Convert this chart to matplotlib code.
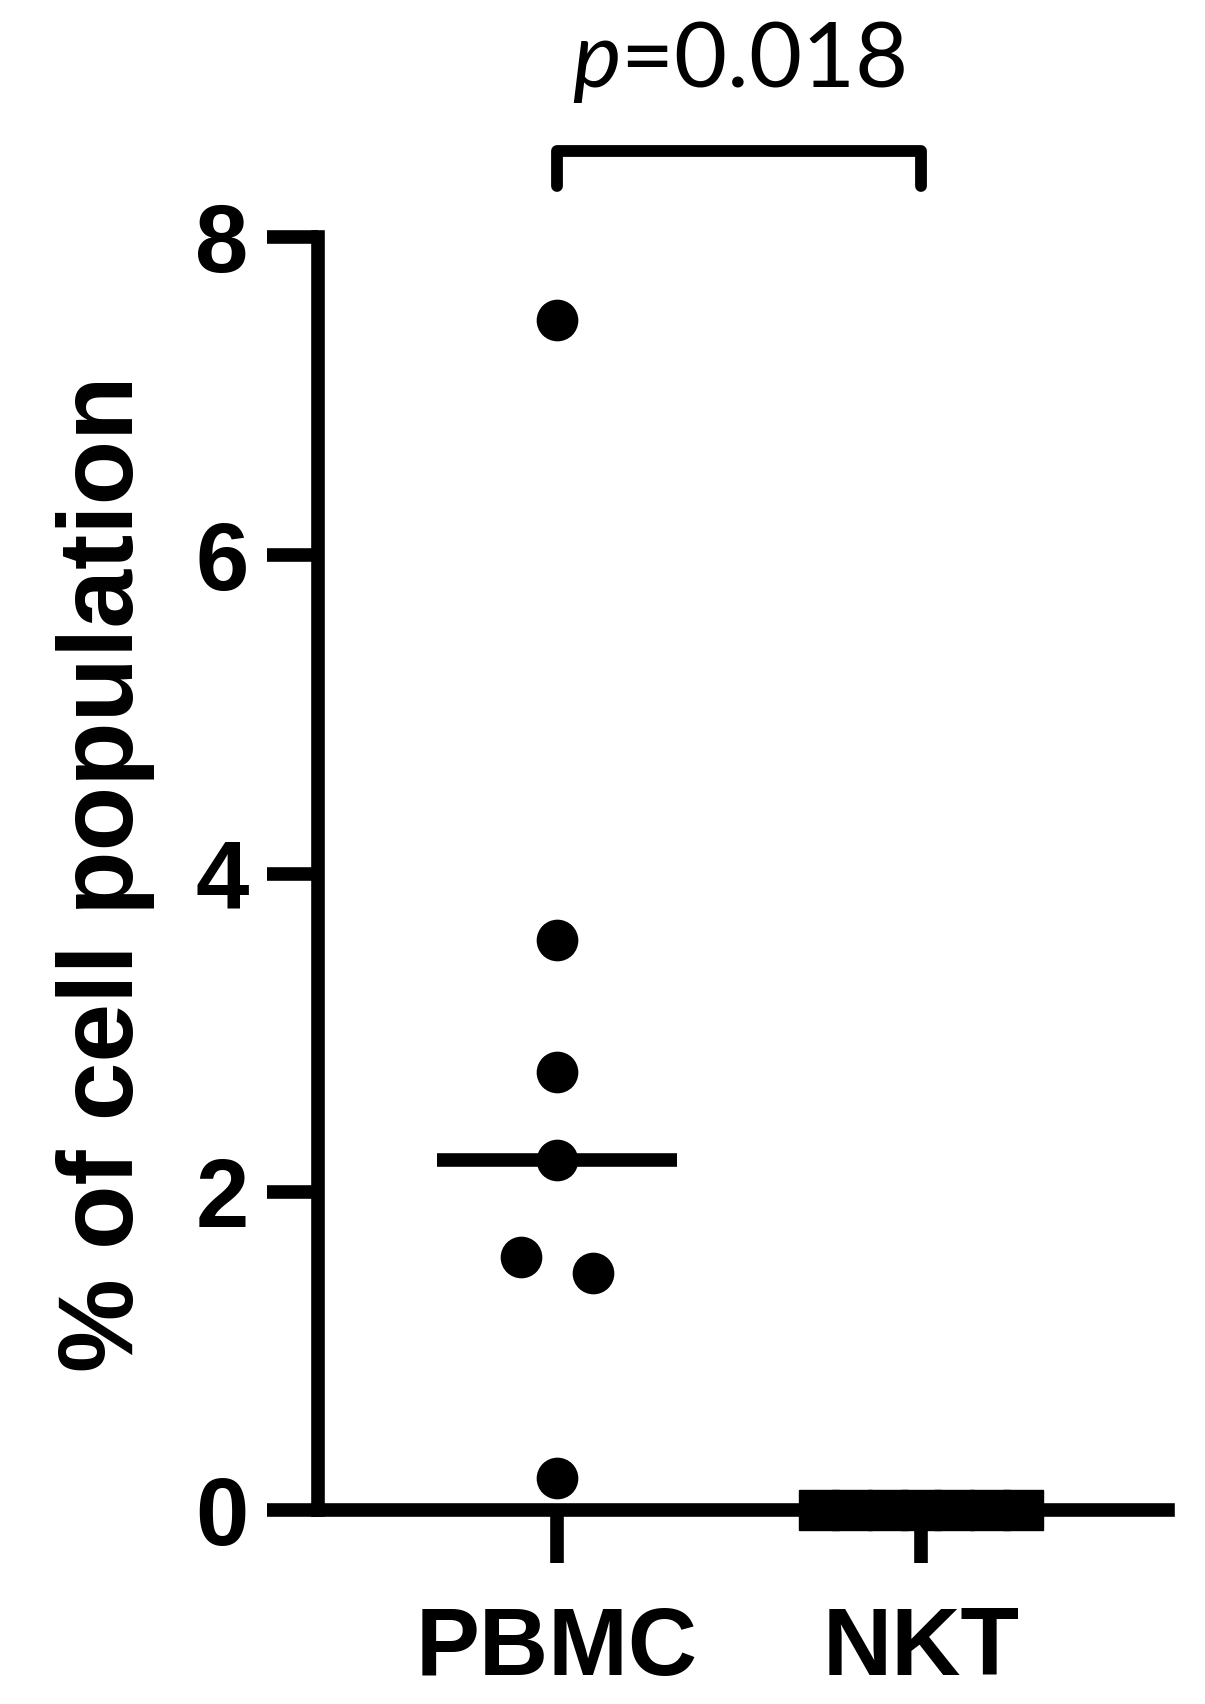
import matplotlib
matplotlib.use("Agg")
import matplotlib.pyplot as plt
import numpy as np

# ---- data ----
categories = ["PBMC", "NKT"]
pbmc_values = [7.48, 3.58, 2.75, 2.2, 1.59, 1.49, 0.2]
pbmc_jitter = [0.0, 0.0, 0.0, 0.0, -0.1, 0.1, 0.0]
nkt_values = [0, 0, 0, 0, 0, 0, 0]
nkt_jitter = [-0.28, -0.19, -0.09, 0.0, 0.09, 0.19, 0.28]
y_ticks = [0, 2, 4, 6, 8]
y_label = "% of cell population"
p_text = "=0.018"

plt.rcParams['mathtext.fontset'] = 'custom'
plt.rcParams['mathtext.it'] = 'Lato:italic'
plt.rcParams['mathtext.rm'] = 'Lato'

fig = plt.figure(figsize=(12.05, 17.04), dpi=100)
ax = fig.add_axes([0.2639, 0.1138, 0.7054, 0.7471])

lw = 9.8
xs_p = [0 + j for j in pbmc_jitter]
xs_n = [1 + j for j in nkt_jitter]
ax.plot(xs_p, pbmc_values, 'o', color='black', markersize=29, clip_on=False, zorder=3)
ax.plot(xs_n, nkt_values, 's', color='black', markersize=29, clip_on=False, zorder=3)

# medians
for i, vals in enumerate([pbmc_values, nkt_values]):
    m = np.median(vals)
    ax.plot([i - 0.33, i + 0.33], [m, m], color='black', lw=lw, solid_capstyle='butt',
            clip_on=False, zorder=4)

ax.set_xlim(-0.657, 1.679)
ax.set_ylim(0, 8)
ax.set_xticks([0, 1])
ax.set_xticklabels(categories)
ax.set_yticks(y_ticks)
ax.set_yticklabels([str(t) for t in y_ticks])

for s in ['top', 'right']:
    ax.spines[s].set_visible(False)
for s in ['left', 'bottom']:
    ax.spines[s].set_linewidth(lw)
    ax.spines[s].set_capstyle('projecting')

ax.tick_params(axis='y', direction='out', length=37, width=lw, pad=13,
               labelsize=69)
ax.tick_params(axis='x', direction='out', length=38, width=lw, pad=30,
               labelsize=69)
for lab in ax.get_xticklabels() + ax.get_yticklabels():
    lab.set_fontfamily('Liberation Sans')
    lab.set_fontweight('bold')

ax.set_ylabel(y_label, fontsize=76, fontweight='bold', fontfamily='Liberation Sans')
ax.yaxis.set_label_coords(-0.192, 0.5)

# significance bracket
ax.plot([0, 0, 1, 1], [8.32, 8.54, 8.54, 8.32], color='black', lw=8.5,
        solid_capstyle='round', solid_joinstyle='round', clip_on=False)
ax.text(0.5, 8.94, r'$p$' + p_text, fontsize=66, fontfamily='Lato',
        ha='center', va='baseline')

fig.savefig("out.png", dpi=100, facecolor='white')
